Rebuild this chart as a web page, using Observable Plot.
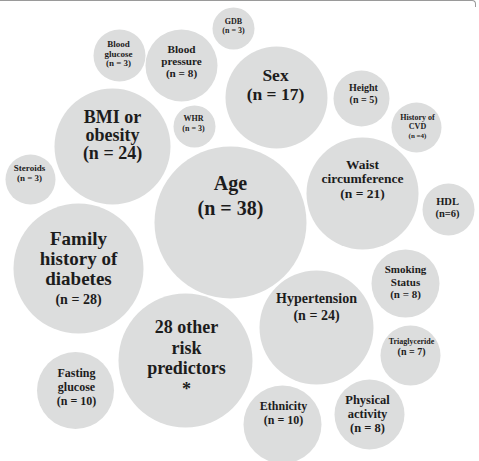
<!DOCTYPE html>
<html><head><meta charset="utf-8">
<script src="https://cdn.jsdelivr.net/npm/d3@7"></script>
<script src="https://cdn.jsdelivr.net/npm/@observablehq/plot@0.6"></script>
<style>
body{margin:0;background:#fff}
#wrap{position:relative;width:479px;height:461px;overflow:hidden}
#frame{position:absolute;left:0;top:0;width:475px;height:6px;border-top:1.5px solid #9a9a9a;border-right:1.5px solid #9a9a9a;border-top-right-radius:4px;pointer-events:none}
</style>
</head><body><div id="wrap"><div id="chart"></div><div id="frame"></div></div>
<script>
// Data
const categories = ["Age","Family\nhistory of\ndiabetes","28 other\nrisk\npredictors\n*","BMI or\nobesity","Hypertension","Waist\ncircumference","Sex","Fasting\nglucose","Ethnicity","Physical\nactivity","Blood\npressure","Smoking\nStatus","Triaglyceride","HDL","Height","History of\nCVD","Blood\nglucose","GDB","WHR","Steroids"];
const counts = [38,28,null,24,24,21,17,10,10,8,8,8,7,6,5,4,3,3,3,3];
const countLabels = ["(n = 38)","(n = 28)","","(n = 24)","(n = 24)","(n = 21)","(n = 17)","(n = 10)","(n = 10)","(n = 8)","(n = 8)","(n = 8)","(n = 7)","(n=6)","(n = 5)","(n =4)","(n = 3)","(n = 3)","(n = 3)","(n = 3)"];

// Layout (bubble centres, radii, label placement)
const bubbleX = [230,78,185,112,316,362,276,75,282,369,181,405,410,448,361,416,119,233,194,30];
const bubbleY = [222,268,360,146,327,193,97,390,424,414,65,283,355,209,98,127,55,28,126,179];
const bubbleR = [76,65,67,58,57,56,51,38.5,39,35,36,34,30,26,28,25,26,21,21,25];
const labelX = [230,78,186,112,316,362,275,76,283,367,181,405,411,447,363,417,118,233,193,29];
const labelTop = [183,238,327,117,298,164,74.5,373,406,399,48.5,269,341,201,87,117,44,21,118,168];
const lineStep = [25,20.3,20.5,18,17,14.5,19,14,14,14,12,12.5,10,12,12,9,9.5,9,10,10];
const nameSize = [20,19,18,18,14,13.5,17.5,12,12,12.5,11.2,11,8,10.5,10,8,9,8,8,9];
const countSize = [20,14,18,18,14,13.5,17.5,12,12,12.5,11.2,11,10,10.5,10,7,9,8,8,9];

const bubbles = categories.map((c, i) => ({name: c, n: counts[i], x: bubbleX[i], y: bubbleY[i], r: bubbleR[i]}));
const lines = categories.flatMap((c, i) => {
  const parts = c.split("\n").map(t => ({t, s: nameSize[i]}));
  if (countLabels[i]) parts.push({t: countLabels[i], s: countSize[i]});
  return parts.map((p, k) => ({text: p.t, size: p.s, x: labelX[i], y: labelTop[i] + k * lineStep[i]}));
});

const chart = Plot.plot({
  width: 479, height: 461, margin: 0,
  x: {domain: [0, 479], range: [0, 479], axis: null},
  y: {domain: [0, 461], range: [0, 461], axis: null},
  r: {type: "identity"},
  marks: [
    Plot.dot(bubbles, {x: "x", y: "y", r: "r", fill: "#dcdddd"}),
    Plot.text(lines, {x: "x", y: "y", text: "text", fontSize: "size", fontWeight: "bold", fill: "#1c1c1c", fontFamily: "Liberation Serif", lineAnchor: "middle"})
  ]
});
document.getElementById("chart").appendChild(chart);
</script>
</body></html>
